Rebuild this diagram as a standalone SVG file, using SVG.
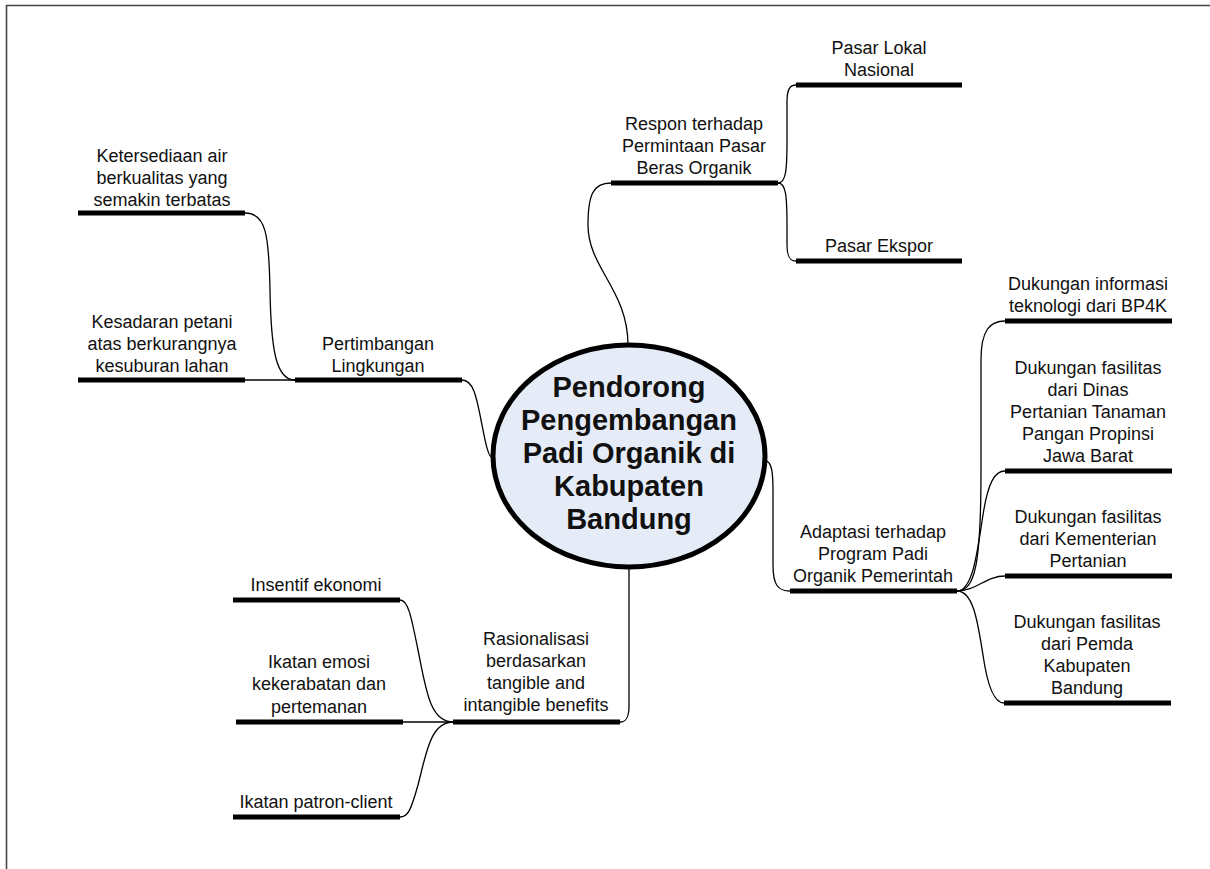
<svg xmlns="http://www.w3.org/2000/svg" width="1210" height="869" viewBox="0 0 1210 869">
<style>
.t{font-family:"Liberation Sans",Arial,sans-serif;font-size:18px;fill:#111;text-anchor:middle}
.c{font-family:"Liberation Sans",Arial,sans-serif;font-size:29px;font-weight:bold;fill:#111;text-anchor:middle}
.bar{stroke:#000;stroke-width:5;fill:none}
.con{stroke:#000;stroke-width:1.3;fill:none}
</style>
<rect width="1210" height="869" fill="#fff"/>
<path d="M6.5,869 L6.5,5.5 L1210,5.5" fill="none" stroke="#444" stroke-width="1.6"/>
<g id="connectors">
<path class="con" d="M245,213 C266,213 269,235 270,290 C271,350 276,380 295,380"/>
<path class="con" d="M245,380 L295,380"/>
<path class="con" d="M462,380 C474,380 477,400 481,420 C486,445 488,457 493,458"/>
<path class="con" d="M611,183 C593,183 588,195 588,225 C588,268 628,290 628,345"/>
<path class="con" d="M778,183 C786,183 787,170 787,140 L787,102 C787,89 790,85 796,85"/>
<path class="con" d="M778,183 C786,183 787,196 787,226 L787,245 C787,257 790,261 796,261"/>
<path class="con" d="M765,460 C772,462 773,472 773,492 L773,565 C773,585 778,591 790,591"/>
<path class="con" d="M957,591 C975,591 981,565 981,470 L981,360 C981,330 990,321 1005,321"/>
<path class="con" d="M957,591 C974,591 978,545 983,515 C988,482 995,471 1005,471"/>
<path class="con" d="M957,591 C976,591 986,576 1005,576"/>
<path class="con" d="M957,591 C974,591 978,625 983,655 C988,690 995,703 1004,703"/>
<path class="con" d="M629,567 L629,706 C629,718 626,722 620,722"/>
<path class="con" d="M453,722 C430,722 426,690 418,650 C411,615 408,600 400,600"/>
<path class="con" d="M453,722 L403,722"/>
<path class="con" d="M453,722 C430,722 426,755 418,785 C411,810 408,817 400,817"/>
</g>
<g id="center">
<ellipse cx="629" cy="456" rx="136" ry="111" fill="#E6ECF7" stroke="#000" stroke-width="5"/>
<text class="c" x="629" y="397">Pendorong</text>
<text class="c" x="629" y="430">Pengembangan</text>
<text class="c" x="629" y="463">Padi Organik di</text>
<text class="c" x="629" y="496">Kabupaten</text>
<text class="c" x="629" y="529">Bandung</text>
</g>
<g id="ketersediaan">
<line class="bar" x1="78" y1="213" x2="245" y2="213"/>
<text class="t" x="162" y="162">Ketersediaan air</text>
<text class="t" x="162" y="184">berkualitas yang</text>
<text class="t" x="162" y="206">semakin terbatas</text>
</g>
<g id="kesadaran">
<line class="bar" x1="78" y1="380" x2="245" y2="380"/>
<text class="t" x="162" y="328">Kesadaran petani</text>
<text class="t" x="162" y="350">atas berkurangnya</text>
<text class="t" x="162" y="372">kesuburan lahan</text>
</g>
<g id="pertimbangan">
<line class="bar" x1="295" y1="380" x2="462" y2="380"/>
<text class="t" x="378" y="350">Pertimbangan</text>
<text class="t" x="378" y="372">Lingkungan</text>
</g>
<g id="respon">
<line class="bar" x1="611" y1="183" x2="778" y2="183"/>
<text class="t" x="694" y="130">Respon terhadap</text>
<text class="t" x="694" y="152">Permintaan Pasar</text>
<text class="t" x="694" y="174">Beras Organik</text>
</g>
<g id="pasar-lokal">
<line class="bar" x1="796" y1="85" x2="962" y2="85"/>
<text class="t" x="879" y="54">Pasar Lokal</text>
<text class="t" x="879" y="76">Nasional</text>
</g>
<g id="pasar-ekspor">
<line class="bar" x1="796" y1="261" x2="962" y2="261"/>
<text class="t" x="879" y="252">Pasar Ekspor</text>
</g>
<g id="adaptasi">
<line class="bar" x1="790" y1="591" x2="957" y2="591"/>
<text class="t" x="873" y="538">Adaptasi terhadap</text>
<text class="t" x="873" y="560">Program Padi</text>
<text class="t" x="873" y="582">Organik Pemerintah</text>
</g>
<g id="bp4k">
<line class="bar" x1="1005" y1="321" x2="1172" y2="321"/>
<text class="t" x="1088" y="290">Dukungan informasi</text>
<text class="t" x="1088" y="312">teknologi dari BP4K</text>
</g>
<g id="dinas">
<line class="bar" x1="1005" y1="471" x2="1172" y2="471"/>
<text class="t" x="1088" y="374">Dukungan fasilitas</text>
<text class="t" x="1088" y="396">dari Dinas</text>
<text class="t" x="1088" y="418">Pertanian Tanaman</text>
<text class="t" x="1088" y="440">Pangan Propinsi</text>
<text class="t" x="1088" y="462">Jawa Barat</text>
</g>
<g id="kementerian">
<line class="bar" x1="1005" y1="576" x2="1172" y2="576"/>
<text class="t" x="1088" y="523">Dukungan fasilitas</text>
<text class="t" x="1088" y="545">dari Kementerian</text>
<text class="t" x="1088" y="567">Pertanian</text>
</g>
<g id="pemda">
<line class="bar" x1="1004" y1="703" x2="1171" y2="703"/>
<text class="t" x="1087" y="628">Dukungan fasilitas</text>
<text class="t" x="1087" y="650">dari Pemda</text>
<text class="t" x="1087" y="672">Kabupaten</text>
<text class="t" x="1087" y="694">Bandung</text>
</g>
<g id="rasionalisasi">
<line class="bar" x1="453" y1="722" x2="620" y2="722"/>
<text class="t" x="536" y="645">Rasionalisasi</text>
<text class="t" x="536" y="667">berdasarkan</text>
<text class="t" x="536" y="689">tangible and</text>
<text class="t" x="536" y="711">intangible benefits</text>
</g>
<g id="insentif">
<line class="bar" x1="233" y1="600" x2="400" y2="600"/>
<text class="t" x="316" y="591">Insentif ekonomi</text>
</g>
<g id="ikatan-emosi">
<line class="bar" x1="236" y1="722" x2="403" y2="722"/>
<text class="t" x="319" y="668">Ikatan emosi</text>
<text class="t" x="319" y="690">kekerabatan dan</text>
<text class="t" x="319" y="713">pertemanan</text>
</g>
<g id="ikatan-patron">
<line class="bar" x1="233" y1="817" x2="400" y2="817"/>
<text class="t" x="316" y="808">Ikatan patron-client</text>
</g>
</svg>
